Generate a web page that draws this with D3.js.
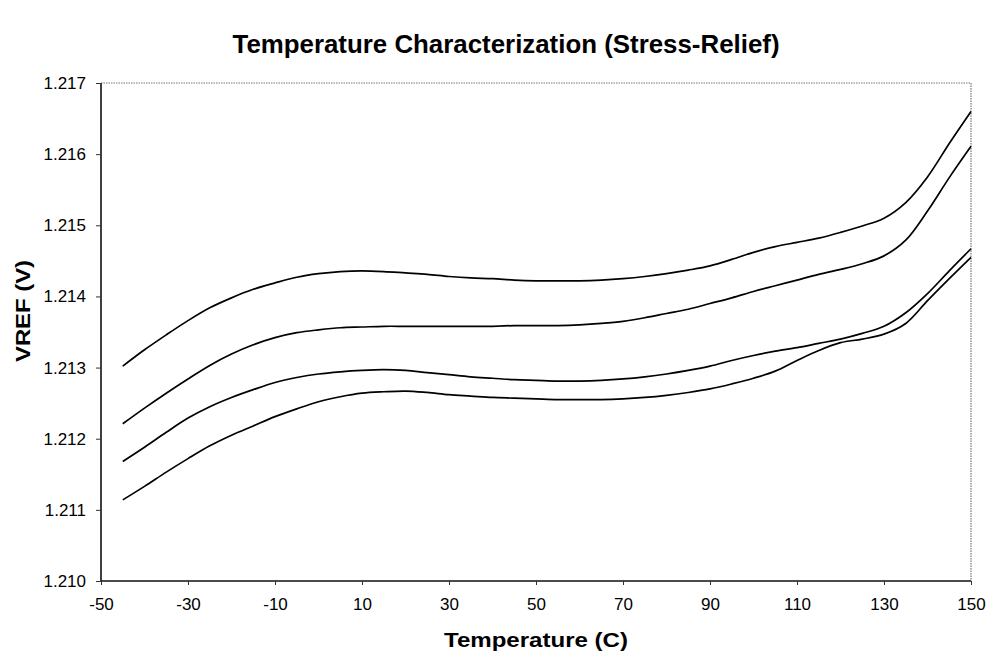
<!DOCTYPE html>
<html>
<head>
<meta charset="utf-8">
<script src="https://cdn.jsdelivr.net/npm/d3@7"></script>
<style>
  html, body { margin: 0; padding: 0; background: #fff; }
  svg { display: block; }
  text { font-family: "Liberation Sans", Arial, sans-serif; fill: #000; }
</style>
</head>
<body>
<svg id="chart" width="989" height="654"></svg>
<script>
// ---- data ----
const temps = [-45,-40,-35,-30,-25,-20,-15,-10,-5,0,5,10,15,20,25,30,35,40,45,50,55,60,65,70,75,80,85,90,95,100,105,110,115,120,125,130,135,140,145,150];
const vrefA = [1.21302,1.21325,1.21346,1.21366,1.21384,1.21398,1.21410,1.21419,1.21427,1.21432,1.21435,1.21436,1.21435,1.21433,1.21431,1.21428,1.21426,1.21425,1.21423,1.21422,1.21422,1.21422,1.21423,1.21425,1.21428,1.21432,1.21437,1.21443,1.21452,1.21462,1.21470,1.21476,1.21482,1.21490,1.21499,1.21510,1.21532,1.21568,1.21615,1.21660];
const vrefB = [1.21221,1.21243,1.21264,1.21284,1.21303,1.21319,1.21332,1.21342,1.21349,1.21353,1.21356,1.21357,1.21358,1.21358,1.21358,1.21358,1.21358,1.21358,1.21359,1.21359,1.21359,1.21360,1.21362,1.21365,1.21370,1.21376,1.21382,1.21390,1.21398,1.21407,1.21415,1.21423,1.21431,1.21438,1.21446,1.21457,1.21479,1.21520,1.21567,1.21611];
const vrefC = [1.21168,1.21188,1.21209,1.21229,1.21245,1.21258,1.21269,1.21279,1.21286,1.21291,1.21294,1.21296,1.21297,1.21296,1.21293,1.21290,1.21287,1.21285,1.21283,1.21282,1.21281,1.21281,1.21282,1.21284,1.21287,1.21291,1.21296,1.21302,1.21310,1.21317,1.21323,1.21328,1.21334,1.21340,1.21348,1.21358,1.21377,1.21404,1.21436,1.21467];
const vrefD = [1.21114,1.21133,1.21153,1.21172,1.21190,1.21205,1.21218,1.21231,1.21242,1.21252,1.21259,1.21264,1.21266,1.21267,1.21265,1.21262,1.21260,1.21258,1.21257,1.21256,1.21255,1.21255,1.21255,1.21256,1.21258,1.21261,1.21265,1.21270,1.21277,1.21285,1.21295,1.21310,1.21324,1.21335,1.21340,1.21347,1.21362,1.21394,1.21425,1.21455];
const xTicks = [-50,-30,-10,10,30,50,70,90,110,130,150];
const yTicks = [1.210,1.211,1.212,1.213,1.214,1.215,1.216,1.217];
const titleText = "Temperature Characterization (Stress-Relief)";
const xLabel = "Temperature (C)";
const yLabel = "VREF (V)";

// ---- layout ----
const L = 101, R = 971, T = 83, B = 581;
const svg = d3.select("#chart");
const x = d3.scaleLinear().domain([-50, 150]).range([L, R]);
const y = d3.scaleLinear().domain([1.210, 1.217]).range([B, T]);

// plot frame (top/right dotted)
svg.append("line").attr("x1", L).attr("x2", R).attr("y1", T).attr("y2", T)
  .attr("stroke", "#777").attr("stroke-width", 1.2).attr("stroke-dasharray", "1.5,1");
svg.append("line").attr("x1", R).attr("x2", R).attr("y1", T).attr("y2", B)
  .attr("stroke", "#777").attr("stroke-width", 1.2).attr("stroke-dasharray", "1.5,1");

// axes
const xAxis = d3.axisBottom(x).tickValues(xTicks).tickSize(4).tickPadding(13).tickFormat(d => String(d));
const yAxis = d3.axisLeft(y).tickValues(yTicks).tickSize(5).tickPadding(10).tickFormat(d3.format(".3f"));

const gx = svg.append("g").attr("transform", `translate(0,${B})`).call(xAxis);
const gy = svg.append("g").attr("transform", `translate(${L},0)`).call(yAxis);
[gx, gy].forEach(g => {
  g.select(".domain").attr("stroke", "#111").attr("stroke-width", 1.6);
  g.selectAll(".tick line").attr("stroke", "#333").attr("stroke-width", 1);
  g.selectAll(".tick text").style("font-family", "'Liberation Sans', Arial, sans-serif")
    .style("font-size", "17px").attr("fill", "#000");
});
gx.select(".domain").attr("d", `M${L},0H${R}`);
gy.select(".domain").attr("d", `M0,${B}V${T}`);

// lines
const line = d3.line()
  .x((d, i) => x(temps[i]))
  .y(d => y(d))
  .curve(d3.curveCatmullRom.alpha(0.5));
[vrefA, vrefB, vrefC, vrefD].forEach(s => {
  svg.append("path").datum(s).attr("d", line)
    .attr("fill", "none").attr("stroke", "#000").attr("stroke-width", 1.7);
});

// titles
svg.append("text").attr("x", 506).attr("y", 53).attr("text-anchor", "middle")
  .style("font-size", "25px").style("font-weight", "bold")
  .attr("textLength", 547).attr("lengthAdjust", "spacingAndGlyphs")
  .text(titleText);
svg.append("text").attr("x", (L + R) / 2).attr("y", 647).attr("text-anchor", "middle")
  .style("font-size", "21px").style("font-weight", "bold")
  .attr("textLength", 184).attr("lengthAdjust", "spacingAndGlyphs")
  .text(xLabel);
svg.append("text").attr("transform", "translate(30,311) rotate(-90)").attr("text-anchor", "middle")
  .style("font-size", "21px").style("font-weight", "bold")
  .attr("textLength", 102).attr("lengthAdjust", "spacingAndGlyphs")
  .text(yLabel);
</script>
</body>
</html>
